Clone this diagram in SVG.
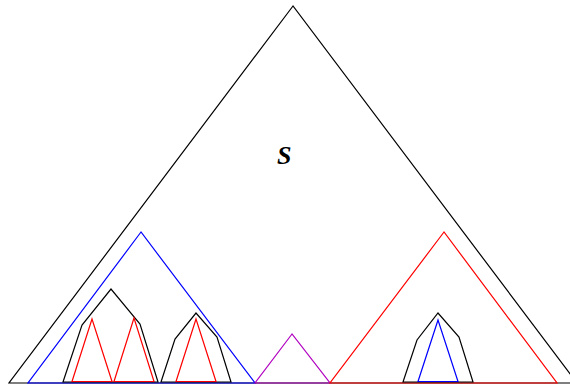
<svg xmlns="http://www.w3.org/2000/svg" width="570" height="385" viewBox="0 0 570 385">
<style>
.s{fill:none;stroke-width:1.2;stroke-linejoin:miter}
.k{stroke:#000}
.b{stroke:#0000ff}
.r{stroke:#ff0000}
.m{stroke:#b000c0}
.lbl{font-family:"Liberation Serif",serif;font-style:italic;font-weight:bold;font-size:26px;fill:#000}
</style>
<rect width="570" height="385" fill="#fff"/>
<g id="S">
<polygon class="s k" points="293,6 9,383 577,383"/>
<text class="lbl" x="277" y="164">S</text>
</g>
<g id="blue-tree">
<polygon class="s b" points="141,232 28,383 255,383"/>
</g>
<g id="magenta-tree">
<polygon class="s m" points="292,334 255,383 330,383"/>
</g>
<g id="red-tree">
<polygon class="s r" points="444,232 330,383 557,383"/>
</g>
<g id="hull-left">
<polygon class="s k" points="63,382 82,325 111,289 140,324 158,382"/>
<polygon class="s r" points="92,319 72,381.5 112,381.5"/>
<polygon class="s r" points="134,318 114,381.5 154,381.5"/>
</g>
<g id="hull-middle">
<polygon class="s k" points="161,382 175,339 196,313 217,337 231,382"/>
<polygon class="s r" points="196,319 176,381.5 216,381.5"/>
</g>
<g id="hull-right">
<polygon class="s k" points="403,382 417,340 438,313 459,337 473,382"/>
<polygon class="s b" points="438,320 418,381.5 458,381.5"/>
</g>
</svg>
